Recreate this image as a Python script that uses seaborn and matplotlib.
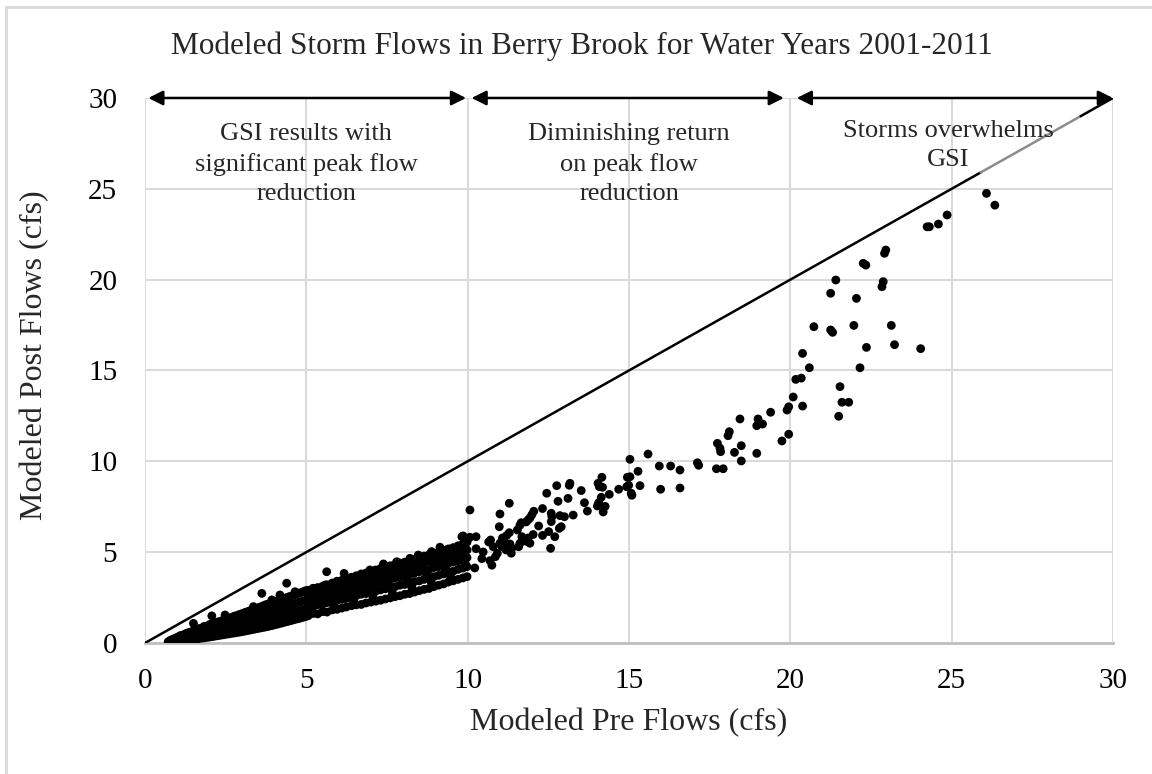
import matplotlib
matplotlib.use("Agg")
import matplotlib.pyplot as plt
import seaborn as sns
import pandas as pd
from matplotlib.lines import Line2D

# ---------------- data ----------------
# dense cloud, pre flows 0.7 - 5 cfs: one pre value with the post values seen above it
pre_a = [0.72, 0.79, 0.86, 0.94, 1.03, 1.10, 1.19, 1.27, 1.35, 1.42, 1.51, 1.60, 1.67,
         1.77, 1.83, 1.93, 2.01, 2.09, 2.18, 2.26, 2.35, 2.43, 2.52, 2.60, 2.69, 2.77,
         2.86, 2.94, 3.03, 3.11, 3.20, 3.28, 3.37, 3.45, 3.54, 3.62, 3.71, 3.79, 3.88,
         3.96, 4.05, 4.13, 4.22, 4.30, 4.39, 4.47, 4.56, 4.64, 4.73, 4.81, 4.90, 4.98]
post_a = [[0.02, 0.07], [0.01, 0.09, 0.15], [0.05, 0.11, 0.20], [0.03, 0.13, 0.18, 0.27],
          [0.07, 0.16, 0.25, 0.34], [0.09, 0.20, 0.29, 0.41], [0.11, 0.23, 0.35, 0.45],
          [0.14, 0.26, 0.41, 0.52], [0.15, 0.31, 0.43, 0.57], [0.19, 0.33, 0.51, 0.61],
          [0.20, 0.38, 0.53, 0.68], [0.23, 0.41, 0.59, 0.71], [0.24, 0.45, 0.61, 0.79],
          [0.27, 0.46, 0.67, 0.83], [0.28, 0.52, 0.69, 0.91], [0.31, 0.53, 0.75, 0.94],
          [0.33, 0.57, 0.77, 1.02], [0.35, 0.60, 0.83, 1.05], [0.38, 0.62, 0.86, 1.10],
          [0.40, 0.67, 0.90, 1.16], [0.43, 0.70, 0.96, 1.20], [0.45, 0.74, 0.99, 1.26],
          [0.48, 0.77, 1.05, 1.30], [0.50, 0.81, 1.09, 1.37], [0.53, 0.84, 1.14, 1.41],
          [0.55, 0.88, 1.18, 1.48], [0.58, 0.91, 1.23, 1.52], [0.60, 0.95, 1.27, 1.58],
          [0.63, 0.98, 1.32, 1.63], [0.66, 1.02, 1.36, 1.69], [0.69, 1.05, 1.41, 1.74],
          [0.72, 1.09, 1.45, 1.80], [0.75, 1.12, 1.50, 1.85], [0.78, 1.16, 1.54, 1.91],
          [0.81, 1.20, 1.59, 1.96], [0.84, 1.23, 1.63, 2.02], [0.87, 1.27, 1.68, 2.07],
          [0.90, 1.30, 1.72, 2.13], [0.94, 1.34, 1.77, 2.18], [0.97, 1.38, 1.81, 2.24],
          [1.01, 1.42, 1.86, 2.29], [1.05, 1.46, 1.90, 2.34], [1.09, 1.50, 1.95, 2.39],
          [1.13, 1.54, 1.99, 2.45], [1.17, 1.58, 2.04, 2.50], [1.21, 1.62, 2.08, 2.55],
          [1.25, 1.66, 2.13, 2.60], [1.29, 1.70, 2.17, 2.66], [1.33, 1.74, 2.22, 2.71],
          [1.37, 1.78, 2.26, 2.76], [1.41, 1.82, 2.31, 2.82], [1.45, 1.86, 2.35, 2.88]]

# dense cloud, pre flows 5 - 10 cfs
pre_b = [5.06, 5.20, 5.35, 5.50, 5.64, 5.80, 5.95, 6.10, 6.24, 6.40, 6.55, 6.70, 6.85,
         7.00, 7.15, 7.30, 7.45, 7.60, 7.75, 7.90, 8.05, 8.20, 8.35, 8.50, 8.65, 8.80,
         8.95, 9.10, 9.25, 9.40, 9.55, 9.70, 9.85, 9.98]
post_b = [[1.50, 1.92, 2.30, 2.62, 2.90], [1.62, 1.98, 2.40, 2.70, 3.00],
          [1.60, 2.10, 2.38, 2.80, 3.05], [1.72, 2.12, 2.50, 2.85, 3.12],
          [1.70, 2.22, 2.55, 2.95, 3.20], [1.82, 2.25, 2.65, 3.00, 3.30],
          [1.85, 2.35, 2.70, 3.10, 3.40], [1.92, 2.40, 2.80, 3.15, 3.45],
          [1.98, 2.45, 2.88, 3.25, 3.55], [2.05, 2.55, 2.92, 3.32, 3.62],
          [2.10, 2.60, 3.02, 3.40, 3.70], [2.12, 2.68, 3.08, 3.45, 3.80],
          [2.20, 2.72, 3.15, 3.55, 3.85], [2.25, 2.80, 3.22, 3.60, 3.95],
          [2.30, 2.85, 3.30, 3.70, 4.02], [2.35, 2.92, 3.35, 3.75, 4.10],
          [2.42, 2.98, 3.45, 3.85, 4.18], [2.48, 3.05, 3.50, 3.90, 4.25],
          [2.55, 3.10, 3.58, 4.00, 4.32], [2.60, 3.18, 3.62, 4.05, 4.40],
          [2.68, 3.22, 3.70, 4.12, 4.45], [2.72, 3.30, 3.78, 4.20, 4.55],
          [2.80, 3.38, 3.85, 4.25, 4.60], [2.88, 3.42, 3.92, 4.35, 4.70],
          [2.95, 3.50, 4.00, 4.42, 4.78], [3.00, 3.58, 4.05, 4.50, 4.85],
          [3.10, 3.65, 4.15, 4.55, 4.92], [3.18, 3.72, 4.20, 4.65, 5.00],
          [3.25, 3.80, 4.30, 4.72, 5.10], [3.35, 3.88, 4.38, 4.80, 5.18],
          [3.42, 3.95, 4.45, 4.88, 5.25], [3.50, 4.05, 4.52, 4.95, 5.35],
          [3.58, 4.12, 4.60, 5.05, 5.45], [3.65, 4.20, 4.70, 5.12, 5.55]]

# in-between points of the 5 - 10 cfs cloud
pre_mid = [5.13, 5.42, 5.72, 6.02, 6.32, 6.62, 6.92, 7.22, 7.52, 7.82, 8.12, 8.42,
           8.72, 9.02, 9.32, 9.62, 9.92, 5.28, 5.87, 6.47, 7.07, 7.67, 8.27, 8.87, 9.47]
post_mid = [2.12, 2.68, 2.45, 3.05, 2.72, 3.30, 2.98, 3.55, 3.25, 3.85, 3.52, 4.10,
            3.78, 4.45, 4.08, 4.75, 4.40, 2.20, 2.02, 2.30, 2.52, 2.75, 3.05, 3.35, 3.65]

# scattered points standing above the dense cloud (pre < 10 cfs)
pre_top = [1.50, 2.07, 2.48, 2.63, 3.36, 3.62, 3.72, 3.93, 4.18, 4.39, 4.65, 5.22,
           5.58, 5.63, 5.94, 6.17, 6.46, 6.66, 6.97, 7.39, 7.80, 8.21, 8.47, 8.88, 9.14,
           9.66, 9.82, 9.86, 9.91, 9.76, 9.55, 9.35]
post_top = [1.08, 1.49, 1.54, 1.36, 2.00, 2.73, 2.09, 2.37, 2.64, 3.29, 2.82, 3.01,
            3.19, 3.92, 3.29, 3.83, 3.37, 3.56, 4.02, 4.35, 4.47, 4.66, 4.84, 5.03, 5.27,
            5.16, 5.85, 5.89, 5.08, 4.94, 4.75, 4.94]

# sparse points, pre flows 10 - 20 cfs
pre_c = [10.02, 10.07, 10.07, 10.22, 10.26, 10.26, 10.44, 10.48, 10.65, 10.69, 10.71, 10.75,
         10.79, 10.86, 10.92, 10.98, 11.0, 11.0, 11.06, 11.08, 11.12, 11.19, 11.21, 11.29, 11.29,
         11.31, 11.35, 11.37, 11.54, 11.58, 11.62, 11.62, 11.66, 11.68, 11.81, 11.81, 11.87, 11.87,
         11.93, 11.93, 11.99, 12.03, 12.05, 12.2, 12.32, 12.32, 12.45, 12.51, 12.57, 12.59, 12.59,
         12.61, 12.7, 12.76, 12.8, 12.84, 12.86, 12.9, 13.0, 13.11, 13.15, 13.17, 13.27, 13.52,
         13.62, 13.71, 14.02, 14.04, 14.06, 14.08, 14.14, 14.16, 14.18, 14.2, 14.26, 14.39, 14.68,
         14.93, 14.95, 14.99, 15.03, 15.03, 15.07, 15.09, 15.28, 15.34, 15.59, 15.94, 15.98, 16.29,
         16.58, 16.58, 17.12, 17.16, 17.71, 17.74, 17.82, 17.84, 17.92, 18.07, 18.11, 18.27, 18.44,
         18.48, 18.48, 18.96, 18.96, 19.0, 19.14, 19.39, 19.74, 19.9, 19.95, 19.95]
post_c = [5.76, 7.32, 5.82, 4.13, 5.19, 5.85, 4.64, 5.01, 5.56, 4.53, 5.67, 4.28,
          5.30, 4.75, 4.94, 6.40, 7.10, 5.49, 5.30, 5.78, 5.63, 5.12, 5.92, 7.69, 6.07,
          5.45, 4.94, 5.21, 6.22, 5.30, 6.48, 5.49, 6.62, 5.85, 6.66, 5.60, 6.77, 5.78,
          6.88, 5.49, 7.06, 5.97, 7.25, 6.44, 7.40, 5.92, 8.24, 6.13, 5.21, 7.14, 6.68,
          6.95, 5.85, 8.66, 7.80, 6.31, 7.01, 6.40, 6.95, 7.96, 8.68, 8.79, 7.04, 8.39,
          7.72, 7.26, 7.54, 8.79, 7.72, 8.60, 8.02, 9.12, 8.57, 7.21, 7.52, 8.18, 8.46,
          8.60, 9.12, 8.68, 10.11, 9.15, 8.24, 8.13, 9.45, 8.66, 10.40, 9.74, 8.46, 9.74,
          9.52, 8.53, 9.92, 9.78, 9.59, 10.99, 10.72, 10.53, 9.59, 11.41, 11.63, 10.49, 12.33,
          10.86, 10.02, 11.96, 10.44, 12.33, 12.05, 12.70, 11.12, 12.82, 13.00, 11.49]

# sparse points, pre flows above 20 cfs
pre_d = [20.09, 20.17, 20.34, 20.38, 20.38, 20.59, 20.73, 21.25, 21.25, 21.31, 21.41, 21.5,
         21.54, 21.6, 21.81, 21.97, 22.05, 22.16, 22.26, 22.34, 22.36, 22.84, 22.88, 22.92,
         22.96, 23.13, 23.23, 24.04, 24.24, 24.31, 24.59, 24.86, 26.08, 26.34]
post_d = [13.54, 14.51, 14.58, 15.94, 13.04, 15.15, 17.41, 19.25, 17.23, 17.10, 19.98, 12.48,
          14.11, 13.25, 13.25, 17.48, 18.97, 15.15, 20.90, 20.80, 16.27, 19.61, 19.89, 21.45,
          21.63, 17.48, 16.42, 16.20, 22.91, 22.91, 23.06, 23.56, 24.75, 24.10]

x_ticks = [0, 5, 10, 15, 20, 25, 30]
y_ticks = [0, 5, 10, 15, 20, 25, 30]
zones = [(0, 10), (10, 20), (20, 30)]
zone_labels = ["GSI results with\nsignificant peak flow\nreduction",
               "Diminishing return\non peak flow\nreduction",
               "Storms overwhelms\nGSI"]

title = "Modeled Storm Flows in Berry Brook for Water Years 2001-2011"
x_label = "Modeled Pre Flows (cfs)"
y_label = "Modeled Post Flows (cfs)"

# ---------------- table ----------------
xs, ys = [], []
for pre_list, post_list in ((pre_a, post_a), (pre_b, post_b)):
    for x, col in zip(pre_list, post_list):
        for y in col:
            xs.append(x)
            ys.append(y)
xs += pre_mid + pre_top + pre_c + pre_d
ys += post_mid + post_top + post_c + post_d
df = pd.DataFrame({"pre": xs, "post": ys})

# ---------------- plot ----------------
sns.set_theme(style="whitegrid")
plt.rcParams["font.family"] = ["Liberation Serif", "DejaVu Serif"]

fig = plt.figure(figsize=(11.52, 7.74), dpi=100)
ax = fig.add_axes([0.1259, 0.1693, 0.8402, 0.7041])

sns.scatterplot(data=df, x="pre", y="post", ax=ax, color="black",
                s=40, edgecolor="none", linewidth=0, zorder=3)

# 1:1 line
ax.plot([0, 25.9], [0, 25.9], color="black", lw=1.8, zorder=4)
ax.plot([25.9, 29.0], [25.9, 29.0], color="#8c8c8c", lw=1.8, zorder=4)
ax.plot([29.0, 30], [29.0, 30], color="black", lw=1.8, zorder=4)

ax.set_xlim(0, 30)
ax.set_ylim(0, 30)
ax.set_xticks(x_ticks)
ax.set_yticks(y_ticks)
ax.tick_params(axis="x", labelsize=21, length=0, pad=18, colors="black")
ax.tick_params(axis="y", labelsize=21, length=0, pad=20, colors="black")
ax.grid(True, color="#d9d9d9", lw=1.4)
for side in ["top", "right", "left"]:
    ax.spines[side].set_visible(False)
ax.spines["bottom"].set_color("#bfbfbf")
ax.spines["bottom"].set_linewidth(2)

ax.set_xlabel(x_label, fontsize=23)
ax.set_ylabel(y_label, fontsize=23)
ax.xaxis.set_label_coords(0.5, -0.119)
ax.yaxis.set_label_coords(-0.099, 0.528)
fig.text(0.505, 0.94, title, ha="center", va="center", fontsize=22.5)

# zone arrows at the top
gaps = [(0.1, -0.05), (0.12, -0.2), (0.2, 0.0)]
for (a, b), (ga, gb) in zip(zones, gaps):
    ax.annotate("", xy=(a + ga, 30), xytext=(b + gb, 30),
                arrowprops=dict(arrowstyle="<|-|>", color="black", lw=1.8,
                                mutation_scale=22, shrinkA=0, shrinkB=0),
                annotation_clip=False, zorder=5)

ax.text(5.0, 28.65, zone_labels[0], ha="center", va="top", fontsize=19,
        linespacing=1.45, zorder=5)
ax.text(15.0, 28.65, zone_labels[1], ha="center", va="top", fontsize=19,
        linespacing=1.45, zorder=5)
ax.text(24.9, 28.8, zone_labels[2], ha="center", va="top", fontsize=19,
        linespacing=1.45, zorder=5)

# light border of the figure (left and top edges)
fig.add_artist(Line2D([6 / 1152, 6 / 1152], [0, 1 - 7 / 774],
                      transform=fig.transFigure, color="#d9d9d9", lw=2))
fig.add_artist(Line2D([6 / 1152, 1], [1 - 7 / 774, 1 - 7 / 774],
                      transform=fig.transFigure, color="#d9d9d9", lw=2))

fig.savefig("out.png", dpi=100)
